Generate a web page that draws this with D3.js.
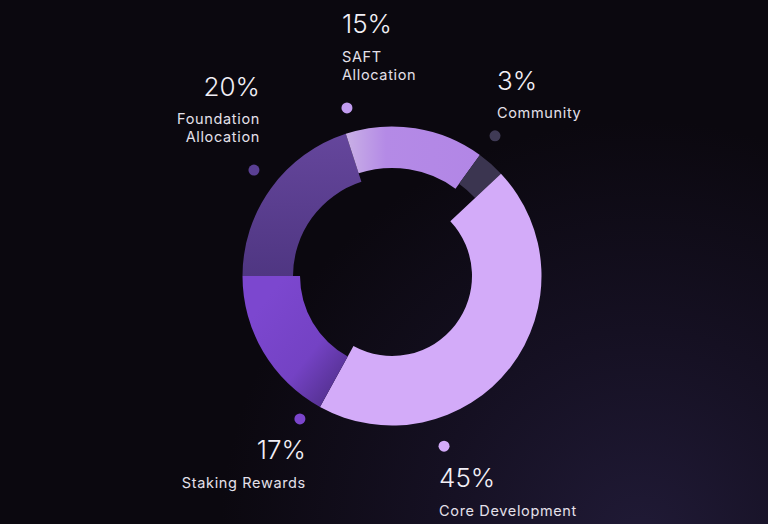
<!DOCTYPE html>
<html>
<head>
<meta charset="utf-8">
<script src="https://cdn.jsdelivr.net/npm/d3@7"></script>
<style>
  html, body { margin: 0; padding: 0; background: #0b080f; }
  svg { display: block; }
  text { font-family: Inter, "Noto Sans", sans-serif; }
</style>
</head>
<body>
<div id="chart"></div>
<script>
// ---- data ----
const categories = ["Foundation Allocation", "SAFT Allocation", "Community", "Core Development", "Staking Rewards"];
const values = [20, 15, 3, 45, 17];
const valueLabels = ["20%", "15%", "3%", "45%", "17%"];
const labelLines = [["Foundation", "Allocation"], ["SAFT", "Allocation"], ["Community"], ["Core Development"], ["Staking Rewards"]];

// ---- style / layout ----
const W = 768, H = 524;
const cx = 392, cy = 276, outerR = 149.5;
const innerRadii = { "Foundation Allocation": 99, "SAFT Allocation": 108, "Community": 114, "Core Development": 80, "Staking Rewards": 92 };
const fills = { "Foundation Allocation": "url(#gFound)", "SAFT Allocation": "url(#gSaft)", "Community": "#3b3550", "Core Development": "#d3abf9", "Staking Rewards": "url(#gStake)" };
const dotColors = { "Foundation Allocation": "#5a3f93", "SAFT Allocation": "#c29cf0", "Community": "#3f3a55", "Core Development": "#d3abf9", "Staking Rewards": "#7b45cc" };
// label anchor: angle (deg) for the dot, radius, text anchor, offsets
const labelLayout = {
  "Foundation Allocation": { ang: -52.5, r: 174, anchor: "end", dx: 6, num: -74, lines: [-46, -28] },
  "SAFT Allocation": { ang: -15, r: 174, anchor: "start", dx: -5, num: -75, lines: [-46, -28] },
  "Community": { ang: 36.3, r: 174, anchor: "start", dx: 2, num: -46, lines: [-18] },
  "Core Development": { ang: 163, r: 178, anchor: "start", dx: -5, num: 41, lines: [70] },
  "Staking Rewards": { ang: 212.8, r: 170, anchor: "end", dx: 6, num: 40, lines: [69] }
};

const svg = d3.select("#chart").append("svg").attr("width", W).attr("height", H);
const defs = svg.append("defs");

const bg = defs.append("radialGradient").attr("id", "bgGlow")
  .attr("gradientUnits", "userSpaceOnUse").attr("cx", 640).attr("cy", 540).attr("r", 420);
bg.append("stop").attr("offset", 0).attr("stop-color", "#201a36");
bg.append("stop").attr("offset", 0.5).attr("stop-color", "#151022");
bg.append("stop").attr("offset", 1).attr("stop-color", "#0b080f");

const gF = defs.append("linearGradient").attr("id", "gFound").attr("x1", 0).attr("y1", 0).attr("x2", 0).attr("y2", 1);
gF.append("stop").attr("offset", 0).attr("stop-color", "#65469c");
gF.append("stop").attr("offset", 1).attr("stop-color", "#4f3682");

const gS = defs.append("linearGradient").attr("id", "gSaft").attr("x1", 0).attr("y1", 0).attr("x2", 1).attr("y2", 0);
gS.append("stop").attr("offset", 0).attr("stop-color", "#c9b0e6");
gS.append("stop").attr("offset", 0.3).attr("stop-color", "#b48ae6");
gS.append("stop").attr("offset", 1).attr("stop-color", "#b286e6");

const gK = defs.append("linearGradient").attr("id", "gStake").attr("x1", 0.2).attr("y1", 0.2).attr("x2", 0.9).attr("y2", 0.9);
gK.append("stop").attr("offset", 0).attr("stop-color", "#7c47cf");
gK.append("stop").attr("offset", 0.6).attr("stop-color", "#7442c4");
gK.append("stop").attr("offset", 1).attr("stop-color", "#53308f");

svg.append("rect").attr("width", W).attr("height", H).attr("fill", "url(#bgGlow)");

const data = categories.map((c, i) => ({ cat: c, value: values[i], label: valueLabels[i], lines: labelLines[i] }));

const pie = d3.pie().value(d => d.value).sort(null)
  .startAngle(-Math.PI / 2).endAngle(3 * Math.PI / 2);
const arcs = pie(data);

const g = svg.append("g").attr("transform", `translate(${cx},${cy})`);
const arcGen = d3.arc().outerRadius(outerR).innerRadius(d => innerRadii[d.data.cat]);

g.selectAll("path.seg").data(arcs).join("path")
  .attr("class", "seg")
  .attr("d", arcGen)
  .attr("fill", d => fills[d.data.cat]);

// labels
const lg = g.selectAll("g.lab").data(data).join("g").attr("class", "lab")
  .attr("transform", d => {
    const L = labelLayout[d.cat];
    const p = d3.pointRadial(L.ang * Math.PI / 180, L.r);
    return `translate(${p[0]},${p[1]})`;
  });

lg.append("circle").attr("r", 5.5).attr("fill", d => dotColors[d.cat]);

lg.append("text")
  .attr("x", d => labelLayout[d.cat].dx)
  .attr("y", d => labelLayout[d.cat].num)
  .attr("text-anchor", d => labelLayout[d.cat].anchor)
  .attr("font-size", 26).attr("font-weight", 300)
  .attr("fill", "#f2eff6")
  .text(d => d.label);

lg.each(function(d) {
  const L = labelLayout[d.cat];
  d.lines.forEach((t, i) => {
    d3.select(this).append("text")
      .attr("x", L.dx).attr("y", L.lines[i])
      .attr("text-anchor", L.anchor)
      .attr("font-size", 14.5).attr("font-weight", 400)
      .attr("letter-spacing", 0.65)
      .attr("fill", "#e4e0ea")
      .text(t);
  });
});
</script>
</body>
</html>
